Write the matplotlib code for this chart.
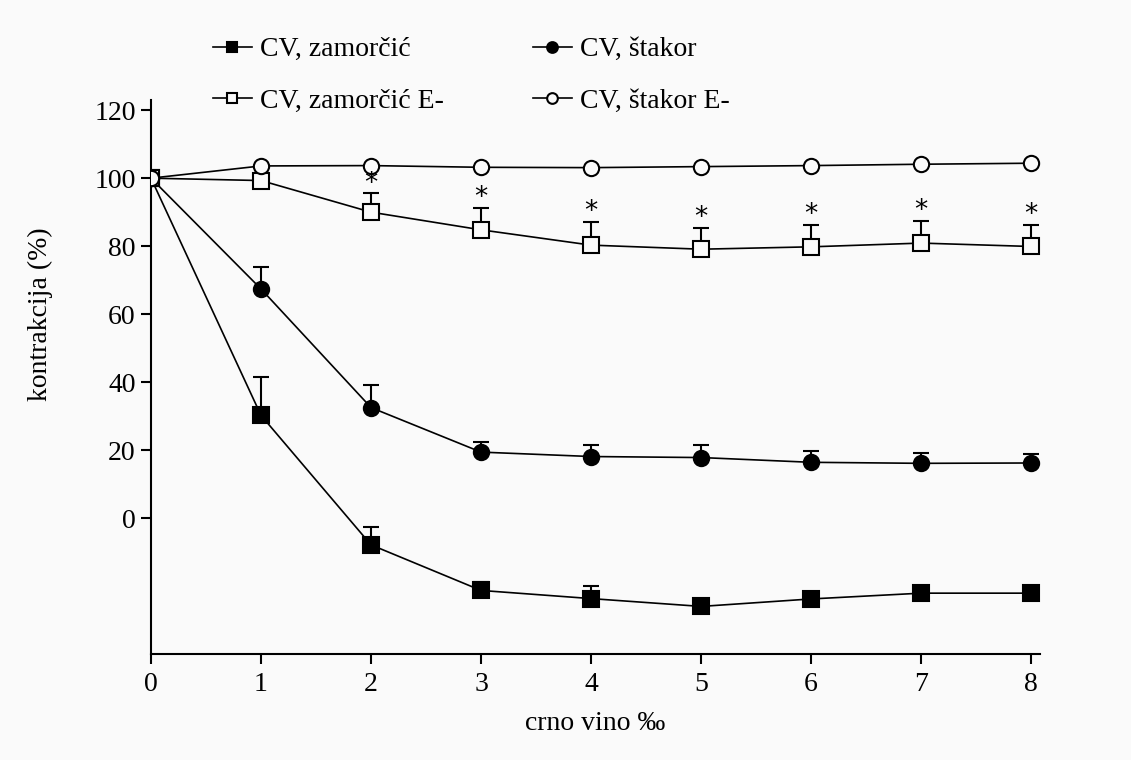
import matplotlib
matplotlib.use("Agg")
import matplotlib.pyplot as plt
import numpy as np

plt.rcParams['font.family'] = ['Liberation Serif', 'DejaVu Serif']

# ---- data ----
doses = [0, 1, 2, 3, 4, 5, 6, 7, 8]
xtick_labels = ['0', '1', '2', '3', '4', '5', '6', '7', '8']
ytick_values = [0, 20, 40, 60, 80, 100, 120]

zam = [100, 30.2, -7.9, -21.3, -23.7, -26.0, -23.8, -22.1, -22.1]
zam_err = [0, 11.4, 5.4, 2.5, 3.6, 0, 0, 0, 0]

stak = [100, 67.4, 32.5, 19.4, 18.1, 17.8, 16.4, 16.1, 16.2]
stak_err = [0, 6.4, 6.5, 3.0, 3.5, 3.6, 3.3, 3.1, 2.7]

zamE = [100, 99.3, 90.0, 84.8, 80.3, 79.1, 79.8, 80.9, 79.9]
zamE_err = [0, 0.8, 5.5, 6.5, 6.8, 6.3, 6.5, 6.6, 6.4]
zamE_sig = [False, False, True, True, True, True, True, True, True]

stakE = [100, 103.6, 103.7, 103.2, 103.1, 103.4, 103.7, 104.1, 104.4]
stakE_err = [0, 0, 0, 0, 0, 0, 0, 0, 0]

labels = ['CV, zamorčić', 'CV, štakor', 'CV, zamorčić E-', 'CV, štakor E-']

bg = '#fafafa'
fig = plt.figure(figsize=(11.31, 7.6), dpi=100, facecolor=bg)
ax = fig.add_axes([151/1131, 1-654/760, (1040-151)/1131, (654-100)/760], facecolor=bg)

x = np.array(doses)
series = [
    (zam, zam_err, 's', 'k', 11),
    (stak, stak_err, 'o', 'k', 11),
    (zamE, zamE_err, 's', bg, 11),
    (stakE, stakE_err, 'o', bg, 11),
]
handles = []
for (vals, err, m, fc, ms), lab in zip(series, labels):
    vals = np.array(vals, float)
    err = np.array(err, float)
    ax.errorbar(x, vals, yerr=[np.zeros_like(err), err], fmt='none',
                ecolor='k', elinewidth=1.5, capsize=6, capthick=1.5, zorder=2)
    h, = ax.plot(x, vals, color='k', lw=1.2, marker=m, ms=ms, mfc=fc,
                 mec='k', mew=1.5, zorder=3, label=lab)
    handles.append(h)

for xi, v, e, s in zip(doses, zamE, zamE_err, zamE_sig):
    if s:
        ax.annotate('*', (xi, v + e), xytext=(0, 7), textcoords='offset points',
                    ha='center', va='center', fontsize=19, family='DejaVu Sans')

ax.set_xlim(0, 8.08)
ax.set_ylim(-40, 123)
ax.set_xticks(doses)
ax.set_xticklabels(xtick_labels)
ax.set_yticks(ytick_values)
ax.tick_params(axis='both', labelsize=20, direction='out', length=7, width=1.5, colors='k')
ax.tick_params(axis='x', pad=6)
ax.tick_params(axis='y', pad=4)
for sp in ['top', 'right']:
    ax.spines[sp].set_visible(False)
for sp in ['left', 'bottom']:
    ax.spines[sp].set_linewidth(1.5)

ax.set_xlabel('crno vino ‰', fontsize=20, labelpad=10)
ax.set_ylabel('kontrakcija (%)', fontsize=20)
ax.yaxis.set_label_coords(-0.11, (654-314)/554)

# order so that ncol=2 (column-wise fill) reads row-wise as in the reference
order = [0, 2, 1, 3]
leg = fig.legend(handles=[handles[i] for i in order],
                 labels=[labels[i] for i in order], ncol=2, loc='upper left',
                 bbox_to_anchor=(199/1131, 1-23/760), frameon=False, borderpad=0,
                 fontsize=20, handlelength=1.4, handletextpad=0.3,
                 columnspacing=3.2, labelspacing=0.95, markerscale=0.7)
fig.savefig('out.png', dpi=100, facecolor=bg)
